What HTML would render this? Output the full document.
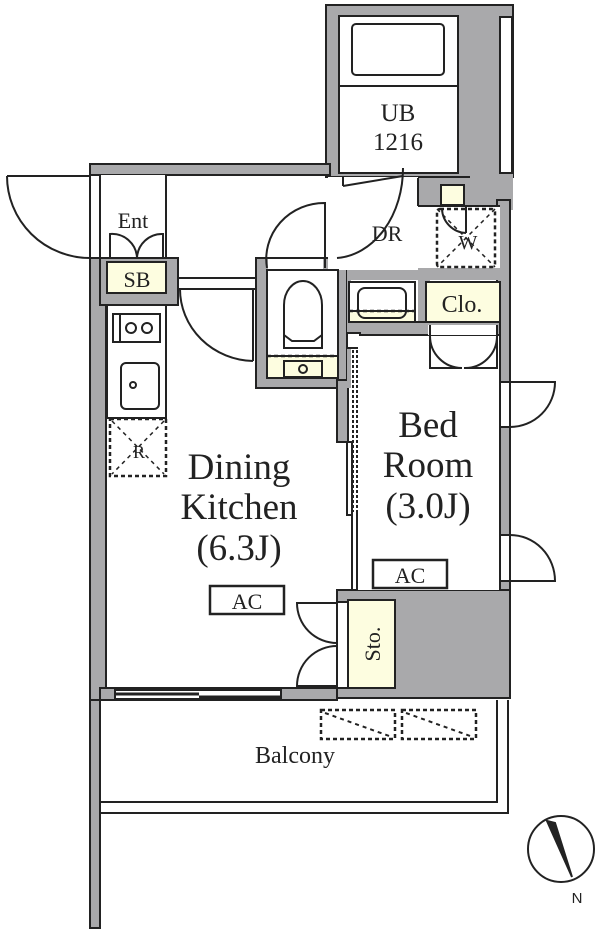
<!DOCTYPE html>
<html><head><meta charset="utf-8"><style>
html,body{margin:0;padding:0;background:#fff;}
svg{display:block;}
text{font-family:"Liberation Serif",serif;fill:#222;}
</style></head><body>
<svg width="600" height="933" viewBox="0 0 600 933" xmlns="http://www.w3.org/2000/svg">
<g stroke="#222" stroke-width="2">
<g fill="#a9a9ab">
<rect x="326" y="5" width="187" height="172"/>
<rect x="470" y="170" width="43" height="40" stroke="none"/>
<rect x="497" y="200" width="13" height="230"/>
<rect x="90" y="164" width="240" height="11"/>
<rect x="90" y="258" width="16" height="442"/>
<rect x="90" y="700" width="10" height="228"/>
<rect x="100" y="258" width="78" height="47"/>
<rect x="256" y="258" width="91" height="130"/>
<rect x="337" y="380" width="11" height="62"/>
<rect x="418" y="178" width="52" height="28" stroke="none"/>
<rect x="347" y="268" width="155" height="12" stroke="none"/>
<rect x="418" y="268" width="12" height="60" stroke="none"/>
<rect x="347" y="322" width="153" height="13"/>
<rect x="347" y="268" width="4" height="120" stroke="none"/>
<rect x="500" y="427" width="10" height="108"/>
<rect x="500" y="581" width="10" height="20"/>
<rect x="337" y="590" width="173" height="108"/>
<rect x="100" y="688" width="237" height="12"/>
</g>
<rect x="339" y="16" width="119" height="157" fill="#fff"/>
<line x1="339" y1="86" x2="458" y2="86"/>
<rect x="352" y="24" width="92" height="51" rx="4" fill="#fff"/>
<rect x="500" y="17" width="12" height="156" fill="#fff"/>
<rect x="328" y="177" width="90" height="93" fill="#fff" stroke="none"/>
<rect x="418" y="206" width="82" height="62" fill="#fff" stroke="none"/>
<line x1="418" y1="206" x2="500" y2="206"/>
<line x1="418" y1="178" x2="418" y2="206"/>
<rect x="441" y="185" width="23" height="20" fill="#fdfde0"/>
<rect x="437" y="209" width="58" height="58" rx="3" fill="none" stroke-dasharray="4 3" stroke-width="2.5"/>
<line x1="437" y1="209" x2="495" y2="267" stroke-dasharray="4 4" stroke-width="1.5"/>
<line x1="495" y1="209" x2="437" y2="267" stroke-dasharray="4 4" stroke-width="1.5"/>
<path d="M442 209 A25 25 0 0 0 466 233" fill="none"/>
<line x1="466" y1="205" x2="466" y2="233"/>
<line x1="343" y1="177" x2="343" y2="186"/>
<path d="M343 186 L403 176" fill="none"/>
<path d="M403 168 A70 90 0 0 1 337 258" fill="none"/>
<rect x="349" y="282" width="66" height="40" fill="#fff"/>
<rect x="349" y="311" width="66" height="11" fill="#fdfde0"/>
<line x1="349" y1="311" x2="415" y2="311" stroke-dasharray="4 3" stroke-width="2.5"/>
<rect x="358" y="288" width="48" height="30" rx="7" fill="none"/>
<rect x="426" y="282" width="74" height="40" fill="#fdfde0"/>
<rect x="347" y="333" width="13" height="15" fill="#fff"/>
<rect x="100" y="175" width="66" height="83" fill="#fff" stroke="none"/>
<line x1="90" y1="175" x2="90" y2="258"/>
<line x1="100" y1="175" x2="100" y2="258"/>
<line x1="166" y1="175" x2="166" y2="258"/>
<line x1="7" y1="176" x2="90" y2="176"/>
<path d="M7 176 A83 82 0 0 0 90 258" fill="none"/>
<line x1="90" y1="258" x2="166" y2="258"/>
<path d="M110 258 L110 234 A25 25 0 0 1 137 258 A25 25 0 0 1 163 234 L163 258" fill="none"/>
<rect x="107" y="262" width="59" height="31" fill="#fdfde0"/>
<rect x="178" y="278" width="78" height="11" fill="#fff"/>
<path d="M180 289 A75 72 0 0 0 253 361" fill="none"/>
<line x1="253" y1="289" x2="253" y2="361"/>
<rect x="107" y="305" width="59" height="113" fill="#fff"/>
<rect x="113" y="314" width="47" height="28" fill="#fff"/>
<line x1="120" y1="314" x2="120" y2="342"/>
<circle cx="131" cy="328" r="5" fill="none"/><circle cx="147" cy="328" r="5" fill="none"/>
<rect x="121" y="363" width="38" height="46" rx="5" fill="#fff"/>
<circle cx="133" cy="385" r="3" fill="none"/>
<rect x="110" y="419" width="56" height="57" fill="none" stroke-dasharray="4 3" stroke-width="2.5"/>
<line x1="112" y1="421" x2="164" y2="474" stroke-dasharray="4 4" stroke-width="1.5"/>
<line x1="164" y1="421" x2="112" y2="474" stroke-dasharray="4 4" stroke-width="1.5"/>
<rect x="267" y="270" width="71" height="108" fill="#fff"/>
<rect x="267" y="356" width="71" height="22" fill="#fdfde0"/>
<line x1="267" y1="356" x2="338" y2="356" stroke-dasharray="4 3" stroke-width="2.5"/>
<path d="M284 348 L284 305 A19 24 0 0 1 322 305 L322 348 Z" fill="#fff"/>
<path d="M284 335 L292 341 L314 341 L322 335" fill="none"/>
<rect x="284" y="361" width="38" height="16" fill="#fdfde0"/>
<circle cx="303" cy="369" r="4" fill="none"/>
<rect x="268" y="259" width="55" height="10" fill="#fff" stroke="none"/>
<path d="M267 268 A58 56 0 0 1 325 203 L325 268" fill="none"/>
<rect x="358" y="336" width="142" height="254" fill="#fff" stroke="none"/>
<line x1="500" y1="336" x2="500" y2="590"/>
<line x1="353" y1="350" x2="353" y2="512" stroke-dasharray="3 2" stroke-width="2"/>
<line x1="357" y1="350" x2="357" y2="512" stroke-dasharray="3 2" stroke-width="2"/>
<rect x="347" y="442" width="5" height="73" fill="#fff"/>
<line x1="352" y1="515" x2="352" y2="590"/>
<line x1="357" y1="512" x2="357" y2="590"/>
<rect x="428" y="325" width="70" height="10" fill="#fff" stroke="none"/>
<path d="M430 325 L430 368 L462 368 A32 32 0 0 1 430 336" fill="none"/>
<path d="M497 325 L497 368 L464 368 A32 32 0 0 0 497 336" fill="none"/>
<rect x="500" y="382" width="10" height="45" fill="#fff"/>
<path d="M510 382 L555 382 A45 45 0 0 1 510 427" fill="none"/>
<rect x="500" y="535" width="10" height="46" fill="#fff"/>
<path d="M510 581 L555 581 A45 46 0 0 0 510 535" fill="none"/>
<rect x="210" y="586" width="74" height="28" fill="#fff" stroke-width="2.5"/>
<rect x="373" y="560" width="74" height="28" fill="#fff" stroke-width="2.5"/>
<rect x="337" y="602" width="12" height="86" fill="#fff"/>
<rect x="348" y="600" width="47" height="88" fill="#fdfde0"/>
<path d="M337 603 L297 603 A40 40 0 0 0 337 643" fill="none"/>
<path d="M337 686 L297 686 A40 40 0 0 1 337 646" fill="none"/>
<rect x="115" y="690" width="166" height="9" fill="#fff"/>
<line x1="115" y1="694" x2="199" y2="694" stroke-width="3"/>
<line x1="199" y1="697" x2="281" y2="697" stroke-width="3"/>
<path d="M100 700 L100 813 L508 813 L508 700" fill="none"/>
<path d="M100 802 L497 802 L497 700" fill="none"/>
<rect x="321" y="710" width="74" height="29" fill="none" stroke-dasharray="4 3" stroke-width="2.5"/>
<rect x="402" y="710" width="74" height="29" fill="none" stroke-dasharray="4 3" stroke-width="2.5"/>
<line x1="325" y1="713" x2="392" y2="737" stroke-dasharray="4 4"/>
<line x1="406" y1="713" x2="473" y2="737" stroke-dasharray="4 4"/>
<circle cx="561" cy="849" r="33" fill="none"/>
<path d="M547 821 L572 877 L555 823 Z" fill="#222"/>
</g>
<text x="398" y="121" font-size="25" text-anchor="middle">UB</text>
<text x="398" y="150" font-size="25" text-anchor="middle">1216</text>
<text x="133" y="228" font-size="22" text-anchor="middle">Ent</text>
<text x="137" y="287" font-size="22" text-anchor="middle">SB</text>
<text x="387" y="241" font-size="22" text-anchor="middle">DR</text>
<text x="468" y="249" font-size="20" text-anchor="middle">W</text>
<text x="462" y="312" font-size="24" text-anchor="middle">Clo.</text>
<text x="139" y="458" font-size="18" text-anchor="middle">R</text>
<text x="239" y="479" font-size="37" text-anchor="middle">Dining</text>
<text x="239" y="519" font-size="37" text-anchor="middle">Kitchen</text>
<text x="239" y="560" font-size="37" text-anchor="middle">(6.3J)</text>
<text x="428" y="437" font-size="37" text-anchor="middle">Bed</text>
<text x="428" y="477" font-size="37" text-anchor="middle">Room</text>
<text x="428" y="518" font-size="37" text-anchor="middle">(3.0J)</text>
<text x="247" y="609" font-size="22" text-anchor="middle">AC</text>
<text x="410" y="583" font-size="22" text-anchor="middle">AC</text>
<text x="380" y="644" font-size="22" text-anchor="middle" transform="rotate(-90 380 644)">Sto.</text>
<text x="295" y="763" font-size="24" text-anchor="middle">Balcony</text>
<text x="577" y="903" font-size="15" text-anchor="middle" style="font-family:'Liberation Sans',sans-serif">N</text>
</svg>
</body></html>
